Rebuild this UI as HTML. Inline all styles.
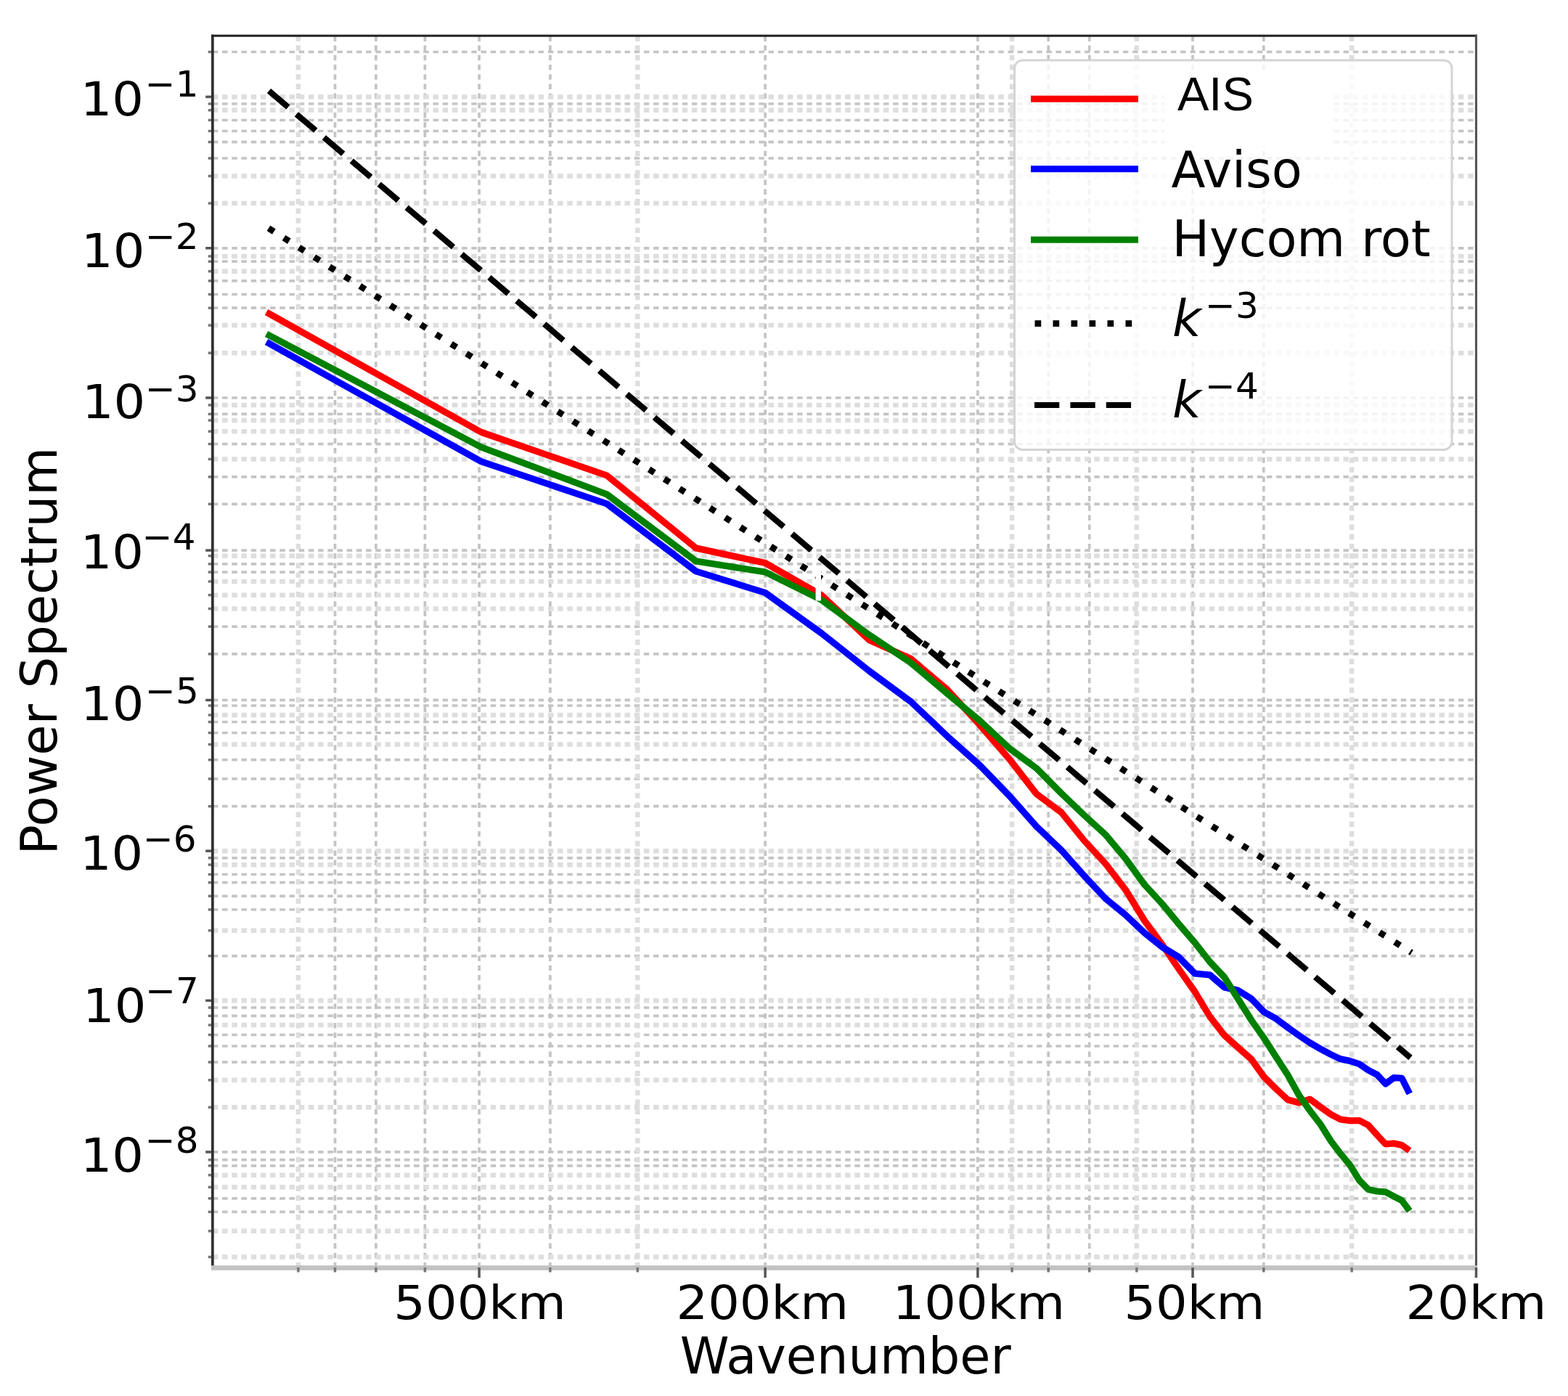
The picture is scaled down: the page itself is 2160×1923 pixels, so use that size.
<!DOCTYPE html><html><head><meta charset="utf-8"><style>html,body{margin:0;padding:0;background:#fff;}svg{display:block;}text{font-family:"DejaVu Sans","Liberation Sans",sans-serif;fill:#000;}</style></head><body>
<svg width="2160" height="1923" viewBox="0 0 2160 1923">
<rect x="0" y="0" width="2160" height="1923" fill="#fff"/>
<g stroke="#c4c4c4" stroke-width="3.7" stroke-dasharray="7.5 5.7" fill="none"><line x1="461.5" y1="1746.5" x2="461.5" y2="49.2"/><line x1="517.9" y1="1746.5" x2="517.9" y2="49.2"/><line x1="585.4" y1="1746.5" x2="585.4" y2="49.2"/><line x1="660.1" y1="1746.5" x2="660.1" y2="49.2"/><line x1="757.9" y1="1746.5" x2="757.9" y2="49.2"/><line x1="1054.1" y1="1746.5" x2="1054.1" y2="49.2"/><line x1="1346.9" y1="1746.5" x2="1346.9" y2="49.2"/><line x1="1444.2" y1="1746.5" x2="1444.2" y2="49.2"/><line x1="1500.7" y1="1746.5" x2="1500.7" y2="49.2"/><line x1="1643.0" y1="1746.5" x2="1643.0" y2="49.2"/><line x1="1740.8" y1="1746.5" x2="1740.8" y2="49.2"/><line x1="292.9" y1="71.5" x2="2033.5" y2="71.5"/><line x1="292.9" y1="143.0" x2="2033.5" y2="143.0"/><line x1="292.9" y1="165.5" x2="2033.5" y2="165.5"/><line x1="292.9" y1="180.5" x2="2033.5" y2="180.5"/><line x1="292.9" y1="195.6" x2="2033.5" y2="195.6"/><line x1="292.9" y1="218.0" x2="2033.5" y2="218.0"/><line x1="292.9" y1="341.8" x2="2033.5" y2="341.8"/><line x1="292.9" y1="360.2" x2="2033.5" y2="360.2"/><line x1="292.9" y1="386.9" x2="2033.5" y2="386.9"/><line x1="292.9" y1="405.5" x2="2033.5" y2="405.5"/><line x1="292.9" y1="424.2" x2="2033.5" y2="424.2"/><line x1="292.9" y1="548.0" x2="2033.5" y2="548.0"/><line x1="292.9" y1="570.4" x2="2033.5" y2="570.4"/><line x1="292.9" y1="611.6" x2="2033.5" y2="611.6"/><line x1="292.9" y1="656.9" x2="2033.5" y2="656.9"/><line x1="292.9" y1="694.3" x2="2033.5" y2="694.3"/><line x1="292.9" y1="758.1" x2="2033.5" y2="758.1"/><line x1="292.9" y1="776.9" x2="2033.5" y2="776.9"/><line x1="292.9" y1="788.1" x2="2033.5" y2="788.1"/><line x1="292.9" y1="863.1" x2="2033.5" y2="863.1"/><line x1="292.9" y1="900.9" x2="2033.5" y2="900.9"/><line x1="292.9" y1="964.4" x2="2033.5" y2="964.4"/><line x1="292.9" y1="972.0" x2="2033.5" y2="972.0"/><line x1="292.9" y1="994.5" x2="2033.5" y2="994.5"/><line x1="292.9" y1="1009.5" x2="2033.5" y2="1009.5"/><line x1="292.9" y1="1046.7" x2="2033.5" y2="1046.7"/><line x1="292.9" y1="1072.9" x2="2033.5" y2="1072.9"/><line x1="292.9" y1="1110.7" x2="2033.5" y2="1110.7"/><line x1="292.9" y1="1181.8" x2="2033.5" y2="1181.8"/><line x1="292.9" y1="1204.5" x2="2033.5" y2="1204.5"/><line x1="292.9" y1="1215.7" x2="2033.5" y2="1215.7"/><line x1="292.9" y1="1234.3" x2="2033.5" y2="1234.3"/><line x1="292.9" y1="1253.0" x2="2033.5" y2="1253.0"/><line x1="292.9" y1="1316.8" x2="2033.5" y2="1316.8"/><line x1="292.9" y1="1388.0" x2="2033.5" y2="1388.0"/><line x1="292.9" y1="1399.3" x2="2033.5" y2="1399.3"/><line x1="292.9" y1="1425.5" x2="2033.5" y2="1425.5"/><line x1="292.9" y1="1441.0" x2="2033.5" y2="1441.0"/><line x1="292.9" y1="1463.1" x2="2033.5" y2="1463.1"/><line x1="292.9" y1="1586.9" x2="2033.5" y2="1586.9"/><line x1="292.9" y1="1597.7" x2="2033.5" y2="1597.7"/><line x1="292.9" y1="1605.8" x2="2033.5" y2="1605.8"/><line x1="292.9" y1="1650.8" x2="2033.5" y2="1650.8"/><line x1="292.9" y1="1669.4" x2="2033.5" y2="1669.4"/></g>
<g stroke="#dedede" stroke-width="6.5" stroke-dasharray="7.5 5.7" fill="none"><line x1="410.9" y1="1746.5" x2="410.9" y2="49.2"/><line x1="878.3" y1="1746.5" x2="878.3" y2="49.2"/><line x1="1394.1" y1="1746.5" x2="1394.1" y2="49.2"/><line x1="1565.8" y1="1746.5" x2="1565.8" y2="49.2"/><line x1="1862.1" y1="1746.5" x2="1862.1" y2="49.2"/><line x1="292.9" y1="133.4" x2="2033.5" y2="133.4"/><line x1="292.9" y1="151.8" x2="2033.5" y2="151.8"/><line x1="292.9" y1="242.5" x2="2033.5" y2="242.5"/><line x1="292.9" y1="280.0" x2="2033.5" y2="280.0"/><line x1="292.9" y1="353.0" x2="2033.5" y2="353.0"/><line x1="292.9" y1="373.7" x2="2033.5" y2="373.7"/><line x1="292.9" y1="448.1" x2="2033.5" y2="448.1"/><line x1="292.9" y1="486.2" x2="2033.5" y2="486.2"/><line x1="292.9" y1="558.0" x2="2033.5" y2="558.0"/><line x1="292.9" y1="579.0" x2="2033.5" y2="579.0"/><line x1="292.9" y1="594.2" x2="2033.5" y2="594.2"/><line x1="292.9" y1="632.5" x2="2033.5" y2="632.5"/><line x1="292.9" y1="765.7" x2="2033.5" y2="765.7"/><line x1="292.9" y1="801.0" x2="2033.5" y2="801.0"/><line x1="292.9" y1="819.7" x2="2033.5" y2="819.7"/><line x1="292.9" y1="838.5" x2="2033.5" y2="838.5"/><line x1="292.9" y1="985.0" x2="2033.5" y2="985.0"/><line x1="292.9" y1="1025.5" x2="2033.5" y2="1025.5"/><line x1="292.9" y1="1172.2" x2="2033.5" y2="1172.2"/><line x1="292.9" y1="1191.2" x2="2033.5" y2="1191.2"/><line x1="292.9" y1="1281.8" x2="2033.5" y2="1281.8"/><line x1="292.9" y1="1378.3" x2="2033.5" y2="1378.3"/><line x1="292.9" y1="1412.0" x2="2033.5" y2="1412.0"/><line x1="292.9" y1="1487.8" x2="2033.5" y2="1487.8"/><line x1="292.9" y1="1525.3" x2="2033.5" y2="1525.3"/><line x1="292.9" y1="1618.7" x2="2033.5" y2="1618.7"/><line x1="292.9" y1="1635.3" x2="2033.5" y2="1635.3"/><line x1="292.9" y1="1695.8" x2="2033.5" y2="1695.8"/><line x1="292.9" y1="1731.5" x2="2033.5" y2="1731.5"/></g>
<g fill="none" stroke-width="9.1" stroke-linejoin="round" stroke-linecap="butt">
<polyline points="367.0,430.0 662.9,595.4 836.0,655.0 958.8,755.0 1054.1,775.5 1131.9,820.0 1197.7,881.9 1254.7,907.4 1305.0,950.0 1350.0,999.0 1390.7,1045.9 1427.8,1093.6 1462.0,1119.0 1493.6,1158.0 1523.1,1190.0 1550.7,1226.0 1576.5,1268.0 1600.9,1301.0 1624.0,1335.0 1645.9,1366.0 1666.7,1400.5 1686.6,1426.0 1705.5,1443.0 1723.7,1459.0 1741.2,1483.5 1757.9,1500.0 1774.1,1515.0 1789.6,1519.0 1804.6,1514.2 1819.2,1525.0 1833.2,1535.0 1846.6,1542.0 1859.8,1543.8 1872.6,1543.5 1885.0,1550.0 1897.0,1563.5 1908.7,1576.0 1920.1,1575.0 1931.1,1577.5 1941.8,1585.0" stroke="#ff0000"/>
<polyline points="367.0,471.0 662.9,635.8 836.0,694.0 958.8,787.0 1054.1,816.5 1131.9,872.5 1197.7,924.5 1254.7,966.5 1305.0,1014.3 1350.0,1054.5 1390.7,1096.5 1427.8,1138.5 1462.0,1171.0 1493.6,1206.6 1523.1,1238.0 1550.7,1260.5 1576.5,1285.0 1600.9,1304.5 1624.0,1318.5 1645.9,1341.0 1666.7,1343.0 1686.6,1360.0 1705.5,1364.3 1723.7,1375.7 1741.2,1394.0 1757.9,1403.3 1774.1,1415.5 1789.6,1426.5 1804.6,1436.5 1819.2,1445.0 1833.2,1452.5 1846.6,1458.8 1859.8,1461.5 1872.6,1465.7 1885.0,1474.2 1897.0,1480.4 1908.7,1493.0 1920.1,1484.5 1931.1,1485.3 1941.8,1506.5" stroke="#0000ff"/>
<polyline points="367.0,460.0 662.9,616.0 836.0,681.0 958.8,773.0 1054.1,788.0 1131.9,826.5 1197.7,874.8 1254.7,913.0 1305.0,955.4 1350.0,993.0 1390.7,1031.0 1427.8,1058.3 1462.0,1092.7 1493.6,1123.0 1523.1,1150.0 1550.7,1183.0 1576.5,1218.5 1600.9,1245.0 1624.0,1273.0 1645.9,1298.5 1666.7,1325.0 1686.6,1346.0 1705.5,1376.0 1723.7,1405.0 1741.2,1430.0 1757.9,1456.0 1774.1,1481.0 1789.6,1509.0 1804.6,1530.0 1819.2,1549.0 1833.2,1571.5 1846.6,1589.2 1859.8,1605.2 1872.6,1626.0 1885.0,1638.5 1897.0,1641.0 1908.7,1642.0 1920.1,1648.0 1931.1,1653.6 1941.8,1668.0" stroke="#008000"/>
</g>
<line x1="370" y1="314.3" x2="1944.5" y2="1312.3" stroke="#000" stroke-width="8.7" stroke-dasharray="8.7 16.12" fill="none"/>
<line x1="370.5" y1="125.2" x2="1943" y2="1457" stroke="#000" stroke-width="8.2" stroke-dasharray="34.6 15.1" fill="none"/>
<rect x="1123.6" y="779" width="7.4" height="48.5" fill="#fff"/>
<rect x="291.0" y="47.7" width="3.7" height="1699" fill="#303030"/>
<rect x="291.0" y="47.7" width="1744" height="3.1" fill="#262626"/>
<rect x="2031.9" y="47.7" width="3.1" height="1699" fill="#555"/>
<rect x="291.0" y="1743.2" width="1744" height="6.6" fill="#c2c2c2"/>
<g stroke-width="3.5"><line x1="286.7" y1="71.5" x2="291" y2="71.5" stroke="#777"/><line x1="283.2" y1="133.4" x2="291" y2="133.4" stroke="#555"/><line x1="286.7" y1="143.0" x2="291" y2="143.0" stroke="#777"/><line x1="286.7" y1="151.8" x2="291" y2="151.8" stroke="#777"/><line x1="286.7" y1="165.5" x2="291" y2="165.5" stroke="#777"/><line x1="286.7" y1="180.5" x2="291" y2="180.5" stroke="#777"/><line x1="286.7" y1="195.6" x2="291" y2="195.6" stroke="#777"/><line x1="286.7" y1="218.0" x2="291" y2="218.0" stroke="#777"/><line x1="286.7" y1="242.5" x2="291" y2="242.5" stroke="#777"/><line x1="286.7" y1="280.0" x2="291" y2="280.0" stroke="#777"/><line x1="283.2" y1="341.8" x2="291" y2="341.8" stroke="#555"/><line x1="286.7" y1="353.0" x2="291" y2="353.0" stroke="#777"/><line x1="286.7" y1="360.2" x2="291" y2="360.2" stroke="#777"/><line x1="286.7" y1="373.7" x2="291" y2="373.7" stroke="#777"/><line x1="286.7" y1="386.9" x2="291" y2="386.9" stroke="#777"/><line x1="286.7" y1="405.5" x2="291" y2="405.5" stroke="#777"/><line x1="286.7" y1="424.2" x2="291" y2="424.2" stroke="#777"/><line x1="286.7" y1="448.1" x2="291" y2="448.1" stroke="#777"/><line x1="286.7" y1="486.2" x2="291" y2="486.2" stroke="#777"/><line x1="283.2" y1="548.0" x2="291" y2="548.0" stroke="#555"/><line x1="286.7" y1="558.0" x2="291" y2="558.0" stroke="#777"/><line x1="286.7" y1="570.4" x2="291" y2="570.4" stroke="#777"/><line x1="286.7" y1="579.0" x2="291" y2="579.0" stroke="#777"/><line x1="286.7" y1="594.2" x2="291" y2="594.2" stroke="#777"/><line x1="286.7" y1="611.6" x2="291" y2="611.6" stroke="#777"/><line x1="286.7" y1="632.5" x2="291" y2="632.5" stroke="#777"/><line x1="286.7" y1="656.9" x2="291" y2="656.9" stroke="#777"/><line x1="286.7" y1="694.3" x2="291" y2="694.3" stroke="#777"/><line x1="283.2" y1="758.1" x2="291" y2="758.1" stroke="#555"/><line x1="286.7" y1="765.7" x2="291" y2="765.7" stroke="#777"/><line x1="286.7" y1="776.9" x2="291" y2="776.9" stroke="#777"/><line x1="286.7" y1="788.1" x2="291" y2="788.1" stroke="#777"/><line x1="286.7" y1="801.0" x2="291" y2="801.0" stroke="#777"/><line x1="286.7" y1="819.7" x2="291" y2="819.7" stroke="#777"/><line x1="286.7" y1="838.5" x2="291" y2="838.5" stroke="#777"/><line x1="286.7" y1="863.1" x2="291" y2="863.1" stroke="#777"/><line x1="286.7" y1="900.9" x2="291" y2="900.9" stroke="#777"/><line x1="283.2" y1="964.4" x2="291" y2="964.4" stroke="#555"/><line x1="286.7" y1="972.0" x2="291" y2="972.0" stroke="#777"/><line x1="286.7" y1="985.0" x2="291" y2="985.0" stroke="#777"/><line x1="286.7" y1="994.5" x2="291" y2="994.5" stroke="#777"/><line x1="286.7" y1="1009.5" x2="291" y2="1009.5" stroke="#777"/><line x1="286.7" y1="1025.5" x2="291" y2="1025.5" stroke="#777"/><line x1="286.7" y1="1046.7" x2="291" y2="1046.7" stroke="#777"/><line x1="286.7" y1="1072.9" x2="291" y2="1072.9" stroke="#777"/><line x1="286.7" y1="1110.7" x2="291" y2="1110.7" stroke="#777"/><line x1="283.2" y1="1172.2" x2="291" y2="1172.2" stroke="#555"/><line x1="286.7" y1="1181.8" x2="291" y2="1181.8" stroke="#777"/><line x1="286.7" y1="1191.2" x2="291" y2="1191.2" stroke="#777"/><line x1="286.7" y1="1204.5" x2="291" y2="1204.5" stroke="#777"/><line x1="286.7" y1="1215.7" x2="291" y2="1215.7" stroke="#777"/><line x1="286.7" y1="1234.3" x2="291" y2="1234.3" stroke="#777"/><line x1="286.7" y1="1253.0" x2="291" y2="1253.0" stroke="#777"/><line x1="286.7" y1="1281.8" x2="291" y2="1281.8" stroke="#777"/><line x1="286.7" y1="1316.8" x2="291" y2="1316.8" stroke="#777"/><line x1="283.2" y1="1378.3" x2="291" y2="1378.3" stroke="#555"/><line x1="286.7" y1="1388.0" x2="291" y2="1388.0" stroke="#777"/><line x1="286.7" y1="1399.3" x2="291" y2="1399.3" stroke="#777"/><line x1="286.7" y1="1412.0" x2="291" y2="1412.0" stroke="#777"/><line x1="286.7" y1="1425.5" x2="291" y2="1425.5" stroke="#777"/><line x1="286.7" y1="1441.0" x2="291" y2="1441.0" stroke="#777"/><line x1="286.7" y1="1463.1" x2="291" y2="1463.1" stroke="#777"/><line x1="286.7" y1="1487.8" x2="291" y2="1487.8" stroke="#777"/><line x1="286.7" y1="1525.3" x2="291" y2="1525.3" stroke="#777"/><line x1="283.2" y1="1586.9" x2="291" y2="1586.9" stroke="#555"/><line x1="286.7" y1="1597.7" x2="291" y2="1597.7" stroke="#777"/><line x1="286.7" y1="1605.8" x2="291" y2="1605.8" stroke="#777"/><line x1="286.7" y1="1618.7" x2="291" y2="1618.7" stroke="#777"/><line x1="286.7" y1="1635.3" x2="291" y2="1635.3" stroke="#777"/><line x1="286.7" y1="1650.8" x2="291" y2="1650.8" stroke="#777"/><line x1="286.7" y1="1669.4" x2="291" y2="1669.4" stroke="#777"/><line x1="286.7" y1="1695.8" x2="291" y2="1695.8" stroke="#777"/><line x1="286.7" y1="1731.5" x2="291" y2="1731.5" stroke="#777"/><line x1="410.9" y1="1746" x2="410.9" y2="1752.5" stroke="#777"/><line x1="461.5" y1="1746" x2="461.5" y2="1752.5" stroke="#777"/><line x1="517.9" y1="1746" x2="517.9" y2="1752.5" stroke="#777"/><line x1="585.4" y1="1746" x2="585.4" y2="1752.5" stroke="#777"/><line x1="660.1" y1="1746" x2="660.1" y2="1760" stroke="#555"/><line x1="757.9" y1="1746" x2="757.9" y2="1752.5" stroke="#777"/><line x1="878.3" y1="1746" x2="878.3" y2="1752.5" stroke="#777"/><line x1="1054.1" y1="1746" x2="1054.1" y2="1760" stroke="#555"/><line x1="1346.9" y1="1746" x2="1346.9" y2="1760" stroke="#555"/><line x1="1394.1" y1="1746" x2="1394.1" y2="1752.5" stroke="#777"/><line x1="1444.2" y1="1746" x2="1444.2" y2="1752.5" stroke="#777"/><line x1="1500.7" y1="1746" x2="1500.7" y2="1752.5" stroke="#777"/><line x1="1565.8" y1="1746" x2="1565.8" y2="1752.5" stroke="#777"/><line x1="1643.0" y1="1746" x2="1643.0" y2="1760" stroke="#555"/><line x1="1740.8" y1="1746" x2="1740.8" y2="1752.5" stroke="#777"/><line x1="1862.1" y1="1746" x2="1862.1" y2="1752.5" stroke="#777"/><line x1="2033.5" y1="1746" x2="2033.5" y2="1760" stroke="#555"/></g>
<text transform="translate(110.7,159.3) scale(1,0.945)" font-size="68.6">10</text>
<text x="199.8" y="132.9" font-size="50.0">−1</text>
<text transform="translate(112.1,368.2) scale(1,0.945)" font-size="68.6">10</text>
<text x="199.9" y="343.1" font-size="50.0">−2</text>
<text transform="translate(112.9,575.6) scale(1,0.945)" font-size="68.6">10</text>
<text x="199.9" y="553.2" font-size="50.0">−3</text>
<text transform="translate(110.7,783.0) scale(1,0.945)" font-size="68.6">10</text>
<text x="195.8" y="756.5" font-size="50.0">−4</text>
<text transform="translate(111.1,991.5) scale(1,0.945)" font-size="68.6">10</text>
<text x="200.0" y="969.0" font-size="50.0">−5</text>
<text transform="translate(109.9,1197.8) scale(1,0.945)" font-size="68.6">10</text>
<text x="196.9" y="1173.0" font-size="50.0">−6</text>
<text transform="translate(114.0,1407.9) scale(1,0.945)" font-size="68.6">10</text>
<text x="200.2" y="1381.5" font-size="50.0">−7</text>
<text transform="translate(110.7,1614.1) scale(1,0.945)" font-size="68.6">10</text>
<text x="199.8" y="1587.6" font-size="50.0">−8</text>
<text transform="translate(661.1,1817.3) scale(1,0.93)" font-size="68.6" text-anchor="middle">500km</text>
<text transform="translate(1050.3,1817.3) scale(1,0.93)" font-size="68.6" text-anchor="middle">200km</text>
<text transform="translate(1348.4,1817.3) scale(1,0.93)" font-size="68.6" text-anchor="middle">100km</text>
<text transform="translate(1645.3,1817.3) scale(1,0.93)" font-size="68.6" text-anchor="middle">50km</text>
<text transform="translate(2033.3,1817.3) scale(1,0.93)" font-size="68.6" text-anchor="middle">20km</text>
<text x="1164.8" y="1891.8" font-size="68.6" text-anchor="middle">Wavenumber</text>
<text transform="translate(77.5,896.7) rotate(-90)" x="0" y="0" font-size="68.6" text-anchor="middle">Power Spectrum</text>
<rect x="1397.5" y="83" width="602.5" height="536.4" rx="11" ry="11" fill="#fff" fill-opacity="0.8" stroke="#d4d4d4" stroke-width="3"/>
<line x1="1420" y1="136.2" x2="1568" y2="136.2" stroke="#ff0000" stroke-width="9.1"/>
<line x1="1420" y1="232.7" x2="1568" y2="232.7" stroke="#0000ff" stroke-width="9.1"/>
<line x1="1420" y1="330.3" x2="1568" y2="330.3" stroke="#008000" stroke-width="9.1"/>
<line x1="1425.5" y1="445.7" x2="1568" y2="445.7" stroke="#000" stroke-width="8.7" stroke-dasharray="8.7 16.3"/>
<line x1="1425" y1="558" x2="1568" y2="558" stroke="#000" stroke-width="8.2" stroke-dasharray="34.3 15.1"/>
<rect x="1604" y="96" width="229" height="105" fill="#fff"/>
<text x="1622" y="152.4" font-size="65" style="font-family:'Liberation Sans',Arial,sans-serif">AIS</text>
<text x="1613.5" y="257.6" font-size="68.6">Aviso</text>
<text x="1614.5" y="353.2" font-size="68.6">Hycom rot</text>
<text x="1615" y="463.2" font-size="68.6" font-style="italic">k</text>
<text x="1660" y="437.7" font-size="50.0">−3</text>
<text x="1615" y="574.7" font-size="68.6" font-style="italic">k</text>
<text x="1660" y="549" font-size="50.0">−4</text>
</svg></body></html>
